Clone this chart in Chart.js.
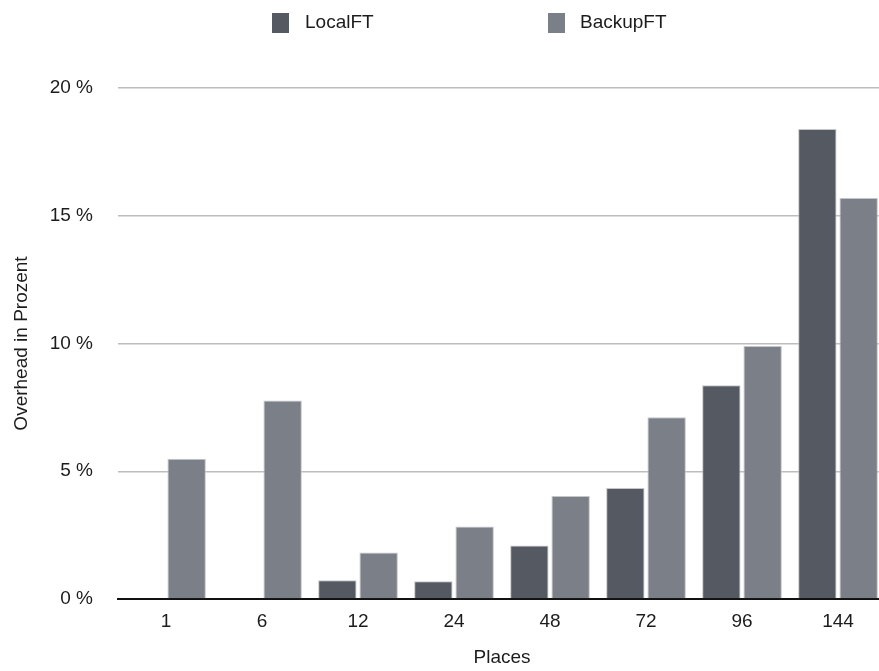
<!DOCTYPE html>
<html>
<head>
<meta charset="utf-8">
<title>Overhead</title>
<script src="https://cdn.jsdelivr.net/npm/chart.js@4/dist/chart.umd.min.js"></script>
<style>
    html, body { margin: 0; padding: 0; background: #fff; overflow: hidden; }
    #wrap { position: relative; width: 890px; height: 671px; }
</style>
</head>
<body>
<div id="wrap"><canvas id="chart"></canvas></div>
<script>
const places   = ['1', '6', '12', '24', '48', '72', '96', '144'];
const localFT  = [0, 0, 0.73, 0.69, 2.09, 4.34, 8.37, 18.4];
const backupFT = [5.49, 7.77, 1.82, 2.84, 4.03, 7.11, 9.9, 15.69];
const yTicks   = [0, 5, 10, 15, 20];

const FONT = "'Liberation Sans', Arial, Helvetica, sans-serif";

// legend drawn by hand, the built-in one can't be spaced like the original
const legendPlugin = {
    id: 'sideLegend',
    afterDraw(chart) {
        const ctx = chart.ctx;
        const xs = [[272, 305], [548, 580]];
        ctx.save();
        ctx.font = '19px ' + FONT;
        ctx.textBaseline = 'middle';
        chart.data.datasets.forEach((ds, i) => {
            ctx.fillStyle = ds.backgroundColor;
            ctx.fillRect(xs[i][0], 13, 17, 20);
            ctx.fillStyle = '#1c1c1c';
            ctx.fillText(ds.label, xs[i][1], 23);
        });
        ctx.restore();
    }
};

const ctx = document.getElementById('chart').getContext('2d');
new Chart(ctx, {
    type: 'bar',
    data: {
        labels: places,
        datasets: [{
            label: 'LocalFT',
            data: localFT,
            backgroundColor: '#555961',
            borderColor: '#c4c6c9',
            borderWidth: 1,
            borderSkipped: 'bottom',
            barPercentage: 0.93,
            categoryPercentage: 0.86
        }, {
            label: 'BackupFT',
            data: backupFT,
            backgroundColor: '#7a7f88',
            borderColor: '#c4c6c9',
            borderWidth: 1,
            borderSkipped: 'bottom',
            barPercentage: 0.93,
            categoryPercentage: 0.86
        }]
    },
    options: {
        responsive: true,
        maintainAspectRatio: false,
        animation: false,
        layout: { padding: { top: 88, right: 4, left: 0, bottom: 0 } },
        plugins: {
            legend: { display: false },
            tooltip: { enabled: false }
        },
        scales: {
            x: {
                grid: { display: false },
                border: { display: true, color: '#111', width: 2 },
                ticks: {
                    color: '#1c1c1c',
                    padding: 3,
                    font: { family: FONT, size: 19 }
                },
                title: {
                    display: true,
                    text: 'Places',
                    color: '#1c1c1c',
                    padding: { top: 0, bottom: 2 },
                    font: { family: FONT, size: 19 }
                },
                afterFit(scale) { scale.height = 72; }
            },
            y: {
                min: 0,
                max: 20,
                afterBuildTicks(scale) { scale.ticks = yTicks.map(v => ({ value: v })); },
                grid: { color: '#bdbdbd', lineWidth: 1.5, drawTicks: false },
                border: { display: false },
                ticks: {
                    color: '#1c1c1c',
                    padding: 25,
                    font: { family: FONT, size: 19 },
                    callback: v => v + ' %'
                },
                title: {
                    display: true,
                    text: 'Overhead in Prozent',
                    color: '#1c1c1c',
                    padding: { top: 10, bottom: 0 },
                    font: { family: FONT, size: 19 }
                },
                afterFit(scale) { scale.width = 118; }
            }
        }
    },
    plugins: [legendPlugin]
});
</script>
</body>
</html>
